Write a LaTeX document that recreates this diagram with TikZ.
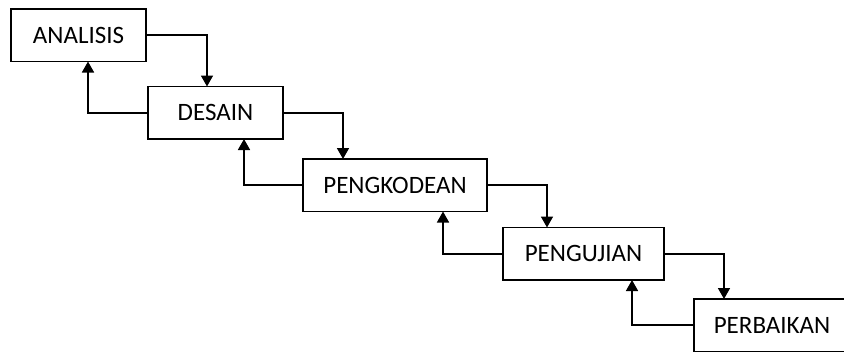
\documentclass[tikz,border=0pt]{standalone}
\usepackage{fontspec}
\setmainfont{Carlito}
\usetikzlibrary{arrows.meta,positioning}

\begin{document}
\begin{tikzpicture}[
	> = {Triangle[width=12pt,length=11pt]}, % arrow head style
	line width = 1.6pt, % line style
	font = \fontsize{25}{30}\selectfont,
	B/.style={rectangle, draw=black, line width=1.5pt, inner sep=0pt, outer sep=0pt, minimum height=52.5pt}, % process box
	]
	\clip (0,0) rectangle (844pt,-351pt);

	% Nodes and their relative positions
	\node[B, minimum width=135pt, anchor=north west] (ANA) at (11pt,-9pt) {ANALISIS};
	\node[B, minimum width=135pt] (DES) [below right = 25pt and 2pt of ANA] {DESAIN};
	\node[B, minimum width=184pt] (KOD) [below right = 20pt and 20pt of DES] {PENGKODEAN};
	\node[B, minimum width=161pt] (UJI) [below right = 16pt and 16pt of KOD] {PENGUJIAN};
	\node[B, minimum width=156pt] (PER) [below right = 19pt and 30pt of UJI] {PERBAIKAN};

	% Bend points of the connectors
	\coordinate (A1) at ([xshift=61pt]ANA.east);
	\coordinate (D1) at ([xshift=60pt]DES.east);
	\coordinate (K1) at ([xshift=60pt]KOD.east);
	\coordinate (U1) at ([xshift=60pt]UJI.east);
	\coordinate (D0) at ([xshift=-60pt]DES.west);
	\coordinate (K0) at ([xshift=-59pt]KOD.west);
	\coordinate (U0) at ([xshift=-60pt]UJI.west);
	\coordinate (P0) at ([xshift=-62pt]PER.west);

	% Paths connecting nodes
	\draw[->] (ANA.east) -| (A1 |- DES.north);
	\draw[->] (DES.east) -| (D1 |- KOD.north);
	\draw[->] (KOD.east) -| (K1 |- UJI.north);
	\draw[->] (UJI.east) -| (U1 |- PER.north);

	\draw[->] (DES.west) -| (D0 |- ANA.south);
	\draw[->] (KOD.west) -| (K0 |- DES.south);
	\draw[->] (UJI.west) -| (U0 |- KOD.south);
	\draw[->] (PER.west) -| (P0 |- UJI.south);

\end{tikzpicture}
\end{document}
